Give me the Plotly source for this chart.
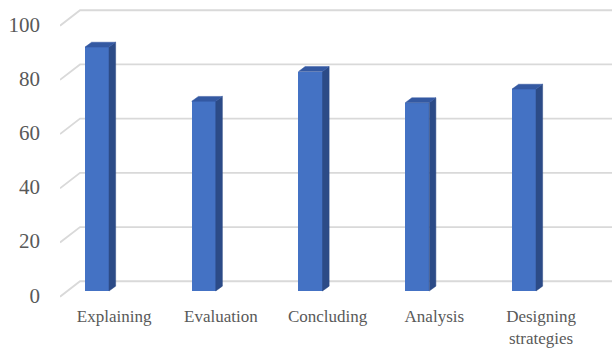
import plotly.graph_objects as go

categories = ["Explaining", "Evaluation", "Concluding", "Analysis", "Designing strategies"]
tick_labels = ["Explaining", "Evaluation", "Concluding", "Analysis", "Designing<br>strategies"]
values = [90, 70, 81, 69.5, 74.5]
y_ticks = [0, 20, 40, 60, 80, 100]

# 3D-look geometry (in axis units)
bar_w = 0.225
depth_dx = 0.062
depth_dy = 1.8
back_dy = 3.6
front_dy = -2.1
x_left = -0.3466
x_back = -0.159
x_right = 4.83

FRONT = "#4472C4"
SIDE = "#2C4B87"
TOP = "#3459A2"
GRID = "#D9D9D9"

fig = go.Figure()

# gridlines (slanted side wall + back wall), below all traces
for t in y_ticks:
    fig.add_shape(type="path", xref="x", yref="y", layer="below",
                  path=f"M {x_left},{t + front_dy} L {x_back},{t + back_dy} L {x_right},{t + back_dy}",
                  line=dict(color=GRID, width=1.8))

xs = list(range(len(categories)))
fig.add_trace(go.Bar(x=xs, y=values, width=bar_w, marker=dict(color=FRONT, line=dict(width=0)),
                     showlegend=False))

# side and top faces
for i, v in zip(xs, values):
    xr = i + bar_w / 2
    xl = i - bar_w / 2
    fig.add_trace(go.Scatter(
        x=[xr, xr + depth_dx, xr + depth_dx, xr, xr], y=[0, depth_dy, v + depth_dy, v, 0],
        fill="toself", fillcolor=SIDE, mode="lines", line=dict(color=SIDE, width=0.5),
        hoverinfo="skip", showlegend=False))
    fig.add_trace(go.Scatter(
        x=[xl, xr, xr + depth_dx, xl + depth_dx, xl], y=[v, v, v + depth_dy, v + depth_dy, v],
        fill="toself", fillcolor=TOP, mode="lines", line=dict(color=TOP, width=0.5),
        hoverinfo="skip", showlegend=False))

fig.update_layout(
    width=612, height=348,
    margin=dict(l=60, r=0, t=5, b=48),
    paper_bgcolor="white", plot_bgcolor="white",
    font=dict(family="Palatino Linotype, Book Antiqua, Liberation Serif, serif", color="#595959"),
    xaxis=dict(range=[x_left, 4.8244], tickvals=[i + 0.16 for i in xs], ticktext=tick_labels,
               showgrid=False, zeroline=False, showline=False, ticks="",
               tickfont=dict(size=17), ticklabelstandoff=4),
    yaxis=dict(range=[-3.32, 105.54], tickvals=[t - 1.6 for t in y_ticks],
               ticktext=[str(t) for t in y_ticks], showgrid=False, zeroline=False,
               showline=False, ticks="", tickfont=dict(size=21), ticklabelstandoff=19),
    bargap=0,
)

fig.write_html("out.html")
